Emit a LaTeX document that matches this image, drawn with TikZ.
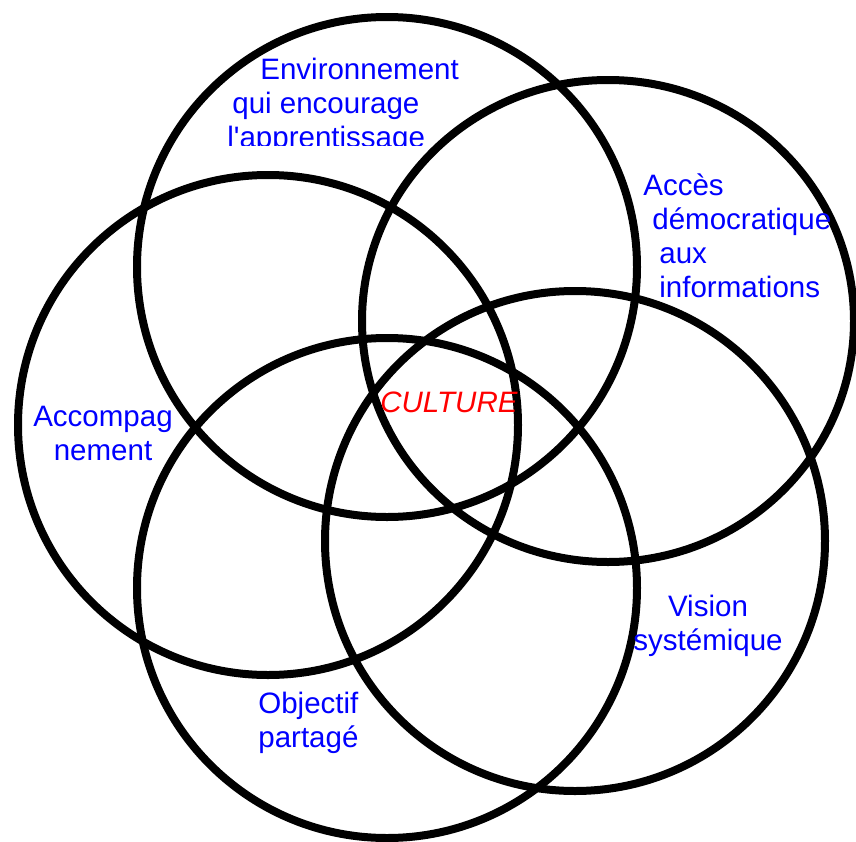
\documentclass[tikz,border=0pt]{standalone}
\usepackage{fontspec}
\setmainfont{Liberation Sans}
\definecolor{themeblue}{RGB}{0,0,255}
\definecolor{culturered}{RGB}{255,0,0}

\begin{document}
\begin{tikzpicture}[
    x=0.02cm, y=-0.02cm,
    ring/.style={draw=black, line width=0.16cm},
    theme/.style={
      text=themeblue, inner sep=0pt, align=left, anchor=base west,
      font=\fontsize{16.8}{19.3}\selectfont
    },
    core/.style={
      text=culturered, inner sep=0pt, anchor=base west,
      font=\fontsize{16.8}{19.3}\selectfont\itshape
    }
  ]
    \useasboundingbox (0,0) rectangle (856,842);

    % The five rings
    \draw[ring] (387,267) circle (250);
    \draw[ring] (608,321) ellipse (246 and 241);
    \draw[ring] (268,425) circle (250);
    \draw[ring] (387,588) circle (250);
    \draw[ring] (575,541) circle (250);

    % Themes round the rings (base = last line)
    \begin{scope}
      \clip (0,0) rectangle (856,145);
      \node[theme] (envir) at (227,147)
        {\hspace{0.66cm}Environnement\\\hspace{0.1cm}qui encourage\\l\textquotesingle apprentissage};
    \end{scope}
    \node[theme] (acces) at (643,297)
      {Accès\\\hspace{0.18cm}démocratique\\\hspace{0.32cm}aux\\\hspace{0.32cm}informations};
    \node[theme, align=center, anchor=base] (accomp) at (103,460) {Accompag\\nement};
    \node[theme, align=center, anchor=base] (vision) at (708,650) {Vision\\systémique};
    \node[theme] (objectif) at (258,747) {Objectif\\partagé};

    % Centre
    \node[core] (culture) at (380,412) {CULTURE};
  \end{tikzpicture}
\end{document}
